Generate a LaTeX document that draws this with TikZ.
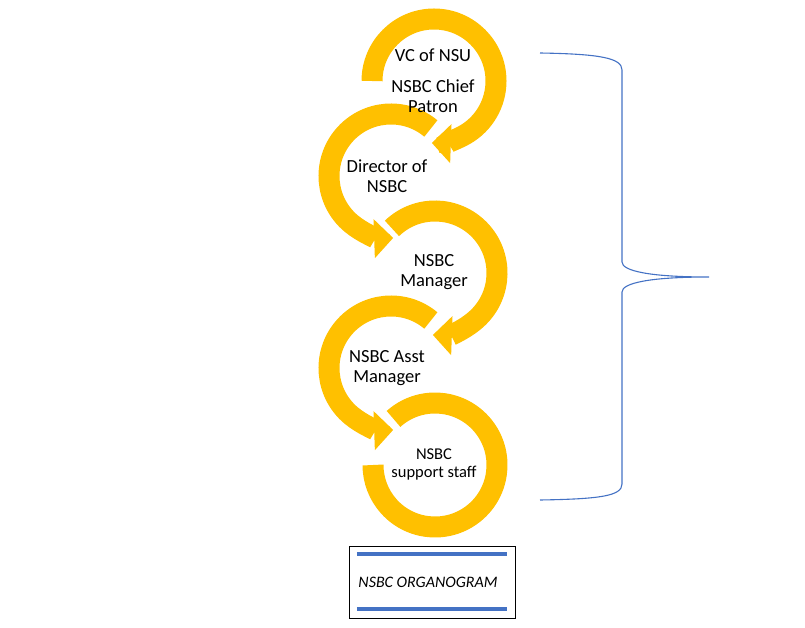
\documentclass[tikz,border=0pt]{standalone}
\usepackage{fontspec}
\setmainfont{Carlito}
\usetikzlibrary{arrows.meta,calc}
\definecolor{gold}{RGB}{255,192,0}
\definecolor{bluebar}{RGB}{68,114,196}
\tikzset{
  ring/.style={draw=gold, line width=21pt},
  ringarrow/.style={ring, -{Triangle[width=38pt,length=19pt]}},
  txt/.style={align=center, inner sep=0pt, font=\fontsize{18.5}{20.5}\selectfont},
  titlebox/.style={draw, thin, minimum width=166pt, minimum height=72pt,
    font=\fontsize{16}{18}\selectfont\itshape},
  brace/.style={draw=bluebar, line width=1.1pt},
}
\begin{document}
\begin{tikzpicture}[x=1pt, y=-1pt]
  \useasboundingbox (0,0) rectangle (805,628);

  % Círculos
  \foreach \n/\cx/\cy/\a/\b in {1/434/81/180/-92, 2/391/176/50/272,
                                3/435/273/134/-92, 4/391/368/50/272} {
    \coordinate (c\n) at (\cx,\cy);
    \draw[ringarrow] (c\n) ++(\a:62pt) arc[start angle=\a, end angle=\b, radius=62pt];
  }
  \coordinate (c5) at (435,465);
  \draw[ring] (c5) ++(132:62pt) arc[start angle=132, end angle=-180, radius=62pt];

  % Textos
  \node[txt] (vc) at (433,55) {VC of NSU};
  \node[txt] (chief) at (433,96) {NSBC Chief\\Patron};
  \node[txt] (director) at (387,176) {Director of\\NSBC};
  \node[txt] (manager) at (434,272) {NSBC\\Manager};
  \node[txt] (asst) at (387,368) {NSBC Asst\\Manager};
  \node[txt, font=\fontsize{16.5}{18}\selectfont] (staff) at (434,464) {NSBC\\support staff};

  % Llave
  \coordinate (btop) at (540,53);
  \coordinate (btip) at (709,277);
  \coordinate (bbot) at (540,500);
  \draw[brace] (btop) .. controls (600,54) and (622,58) .. (622,70)
    -- (622,262) .. controls (622,271) and (650,277) .. (btip)
    .. controls (650,277) and (622,283) .. (622,292)
    -- (622,484) .. controls (622,496) and (600,499) .. (bbot);

  % Título
  \node[titlebox] (title) at (432,582) {\hspace*{-8pt}NSBC ORGANOGRAM};
  \draw[bluebar, line width=3.5pt] ($(title.north west)+(8,8)$) -- ($(title.north east)+(-8,8)$);
  \draw[bluebar, line width=3.5pt] ($(title.south west)+(8,-9)$) -- ($(title.south east)+(-8,-9)$);
\end{tikzpicture}
\end{document}
